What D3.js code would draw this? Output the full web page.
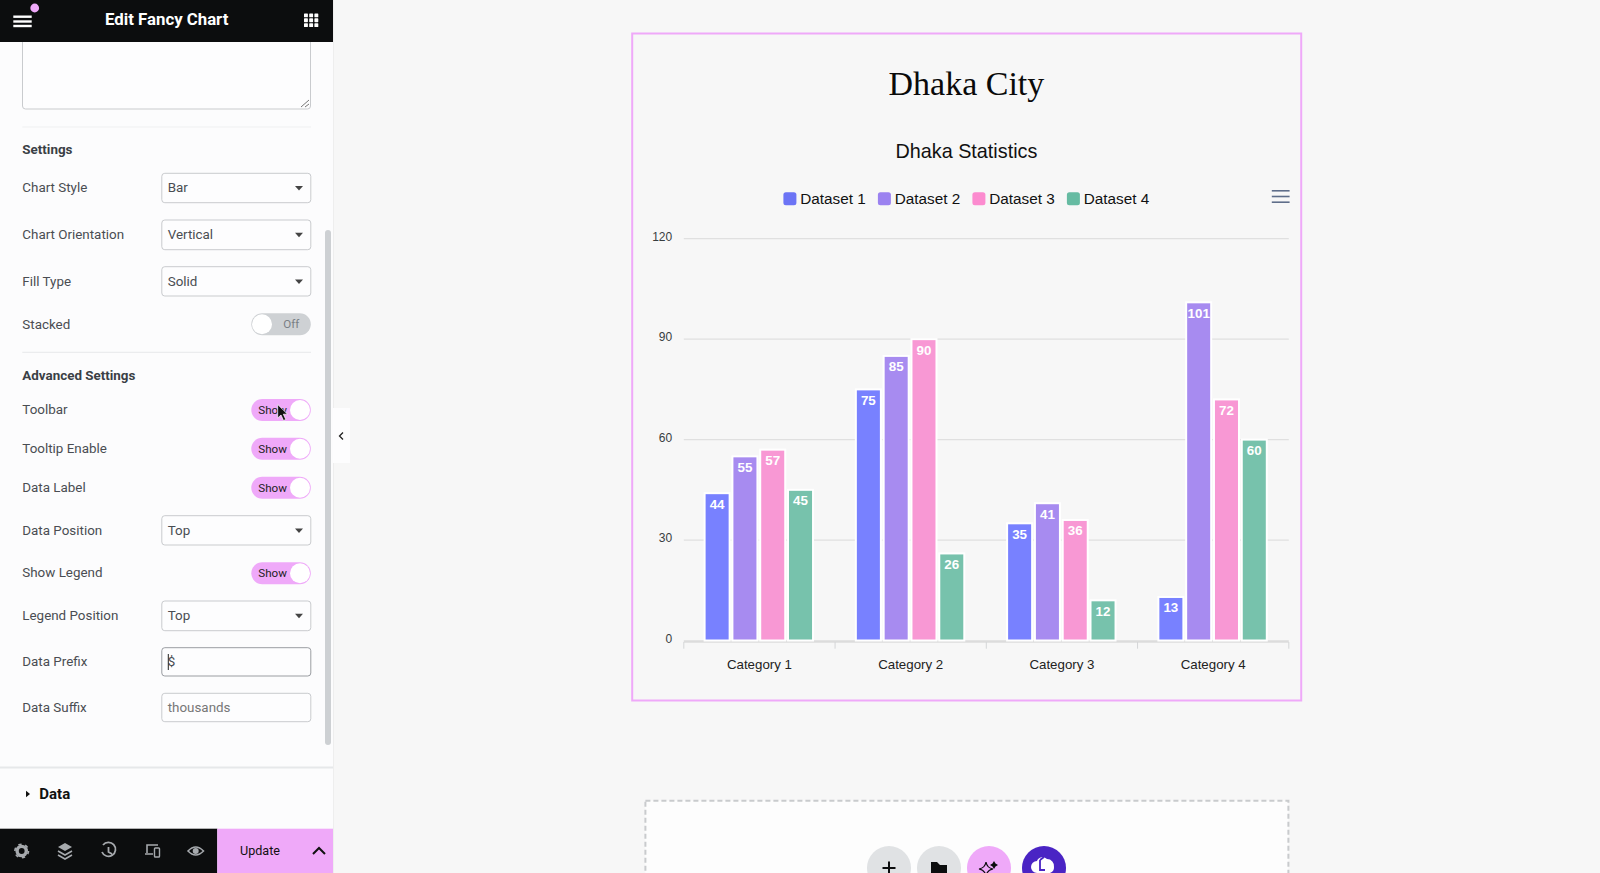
<!DOCTYPE html>
<html>
<head>
<meta charset="utf-8">
<title>Edit Fancy Chart</title>
<script src="https://cdnjs.cloudflare.com/ajax/libs/d3/7.8.5/d3.min.js"></script>
<style>
html, body { margin: 0; padding: 0; background: #f7f7f7; overflow: hidden; }
svg { display: block; }
text { font-family: "Liberation Sans", Arial, sans-serif; }
.ui text { font-family: Roboto, "Liberation Sans", sans-serif; }
</style>
</head>
<body>
<div id="chart"></div>
<script>
const categories = ['Category 1', 'Category 2', 'Category 3', 'Category 4'];
const seriesNames = ['Dataset 1', 'Dataset 2', 'Dataset 3', 'Dataset 4'];
const dataset1 = [44, 75, 35, 13];
const dataset2 = [55, 85, 41, 101];
const dataset3 = [57, 90, 36, 72];
const dataset4 = [45, 26, 12, 60];
const yTicks = [0, 30, 60, 90, 120];

const selectRows = [
	['Chart Style', 'Bar', 173.3, 29.4],
	['Chart Orientation', 'Vertical', 220, 29.7],
	['Fill Type', 'Solid', 266.7, 29.3],
	['Data Position', 'Top', 515.7, 29.3],
	['Legend Position', 'Top', 601, 29.7]
];
const toggleRows = [
	['Toolbar', 399],
	['Tooltip Enable', 437.7],
	['Data Label', 476.7],
	['Show Legend', 562.3]
];

const allSeries = [dataset1, dataset2, dataset3, dataset4];
const barColors = ['#7881ff', '#a78bf0', '#f898d4', '#77c2ac'];
const legendColors = ['#6c74f5', '#9b82f0', '#fc8bcf', '#66bba2'];

const width = 1600;
const height = 873;

const svg = d3.select('#chart')
.append('svg')
.attr('width', width)
.attr('height', height);

svg.append('rect')
.attr('width', width)
.attr('height', height)
.attr('fill', '#f7f7f7');

// ---- chart card
const box = svg.append('g');

box.append('rect')
.attr('x', 632.2)
.attr('y', 33.5)
.attr('width', 669)
.attr('height', 667)
.attr('fill', 'none')
.attr('stroke', '#efa9f9')
.attr('stroke-width', 2);

box.append('text')
.attr('x', 966.4)
.attr('y', 95)
.attr('text-anchor', 'middle')
.style('font-family', '"Liberation Serif", serif')
.style('font-size', '34px')
.attr('fill', '#0a0a0a')
.text('Dhaka City');

box.append('text')
.attr('x', 966.4)
.attr('y', 157.5)
.attr('text-anchor', 'middle')
.style('font-size', '19.8px')
.attr('fill', '#111')
.text('Dhaka Statistics');

// ---- scales
const x0 = d3.scaleBand()
.domain(categories)
.range([683.8, 1288.8]);

const x1 = d3.scaleBand()
.domain(seriesNames)
.range([0, x0.bandwidth()])
.paddingInner(0.1)
.paddingOuter(0.77);

const y = d3.scaleLinear()
.domain([0, 120])
.range([640.5, 238.7]);

// ---- legend
const legendX = d3.scalePoint()
.domain(seriesNames)
.range([783.4, 1066.9]);

const legend = box.selectAll('.legend')
.data(seriesNames)
.enter()
.append('g')
.attr('class', 'legend')
.attr('transform', d => 'translate(' + legendX(d) + ',192.3)');

legend.append('rect')
.attr('width', 13)
.attr('height', 13)
.attr('rx', 2.5)
.attr('fill', (d, i) => legendColors[i]);

legend.append('text')
.attr('x', 16.8)
.attr('y', 11.7)
.style('font-size', '15.3px')
.attr('fill', '#111')
.text(d => d);

// toolbar menu
box.selectAll('.menu')
.data([190.8, 196.5, 202.2])
.enter()
.append('line')
.attr('class', 'menu')
.attr('x1', 1271.8)
.attr('x2', 1289.6)
.attr('y1', d => d)
.attr('y2', d => d)
.attr('stroke', '#5f6e8a')
.attr('stroke-width', 1.6);

// ---- axes
const yAxis = d3.axisLeft(y)
.tickValues(yTicks)
.tickSize(0)
.tickPadding(0);

const yG = box.append('g')
.attr('transform', 'translate(672.2,0)')
.call(yAxis);

yG.select('.domain').remove();

yG.selectAll('text')
.attr('dy', 1.5)
.style('font-size', '12px')
.style('font-family', '"Liberation Sans", sans-serif')
.attr('fill', '#373d3f');

box.selectAll('.grid')
.data(yTicks.filter(d => d > 0))
.enter()
.append('line')
.attr('class', 'grid')
.attr('x1', 683.8)
.attr('x2', 1288.8)
.attr('y1', d => y(d))
.attr('y2', d => y(d))
.attr('stroke', '#e0e0e0')
.attr('stroke-width', 1.2);

box.append('line')
.attr('x1', 683.8)
.attr('x2', 1288.8)
.attr('y1', 641.5)
.attr('y2', 641.5)
.attr('stroke', '#dcdcdc')
.attr('stroke-width', 2.4);

const xAxis = d3.axisBottom(x0)
.tickSize(0)
.tickPadding(0);

const xG = box.append('g')
.attr('transform', 'translate(0,657.6)')
.call(xAxis);

xG.select('.domain').remove();

xG.selectAll('text')
.attr('dy', 0)
.attr('y', 11.6)
.style('font-size', '13.3px')
.style('font-family', '"Liberation Sans", sans-serif')
.attr('fill', '#222');

box.selectAll('.xtick')
.data(categories.concat('end'))
.enter()
.append('line')
.attr('class', 'xtick')
.attr('x1', (d, i) => x0.range()[0] + i * x0.step())
.attr('x2', (d, i) => x0.range()[0] + i * x0.step())
.attr('y1', 642)
.attr('y2', 648.7)
.attr('stroke', '#d4d6d8');

// ---- bars
const groups = box.selectAll('.cat')
.data(categories)
.enter()
.append('g')
.attr('class', 'cat')
.attr('transform', d => 'translate(' + (x0(d) - 0.6) + ',0)');

groups.selectAll('rect')
.data((d, i) => seriesNames.map((s, j) => ({ s: s, j: j, v: allSeries[j][i] })))
.enter()
.append('rect')
.attr('x', d => x1(d.s))
.attr('y', d => y(d.v))
.attr('width', x1.bandwidth())
.attr('height', d => y(0) - y(d.v))
.attr('fill', d => barColors[d.j])
.attr('stroke', '#fff')
.attr('stroke-width', 2);

groups.selectAll('text')
.data((d, i) => seriesNames.map((s, j) => ({ s: s, v: allSeries[j][i] })))
.enter()
.append('text')
.attr('x', d => x1(d.s) + x1.bandwidth() / 2)
.attr('y', d => y(d.v) + 15.4)
.attr('text-anchor', 'middle')
.style('font-size', '13.4px')
.style('font-weight', 'bold')
.attr('fill', '#fff')
.text(d => d.v);

// ---- drop zone below the chart
svg.append('rect')
.attr('x', 645.4)
.attr('y', 800.7)
.attr('width', 643)
.attr('height', 100)
.attr('fill', '#fdfdfd')
.attr('stroke', '#c9cbcd')
.attr('stroke-width', 2)
.attr('stroke-dasharray', '5 3');

const dropButtons = [[889, '#e0e2e4'], [939, '#e0e2e4'], [989, '#efa9f9'], [1044, '#4a24c4']];

svg.selectAll('.drop')
.data(dropButtons)
.enter()
.append('circle')
.attr('class', 'drop')
.attr('cx', d => d[0])
.attr('cy', 868)
.attr('r', 22)
.attr('fill', d => d[1]);

svg.append('path')
.attr('d', 'M882.5 868H895.5M889 861.5V874.5')
.attr('stroke', '#0c0d0e')
.attr('stroke-width', 2);

svg.append('path')
.attr('d', 'M931 862H937L940 865H947V873H931Z')
.attr('fill', '#0c0d0e');

svg.append('path')
.attr('d', 'M986 862Q987 868 993 869Q987 870 986 876Q985 870 979 869Q985 868 986 862Z')
.attr('fill', 'none')
.attr('stroke', '#0c0d0e')
.attr('stroke-width', 1.2);

svg.append('path')
.attr('d', 'M994 861l1.5 2.5l2.5 1.5l-2.5 1.5l-1.5 2.5l-1.5-2.5l-2.5-1.5l2.5-1.5Z')
.attr('fill', '#0c0d0e');

svg.append('path')
.attr('d', 'M1037 873A6 6 0 0 1 1037 861A6 6 0 0 1 1047 859A7 7 0 0 1 1054 867A6 6 0 0 1 1050 873Z')
.attr('fill', '#fff');

svg.append('path')
.attr('d', 'M1040 860V870H1045M1040 860L1044 857')
.attr('fill', 'none')
.attr('stroke', '#4a24c4')
.attr('stroke-width', 1.8);

// ---- editor panel
const ui = svg.append('g').attr('class', 'ui');

ui.append('rect')
.attr('width', 333)
.attr('height', height)
.attr('fill', '#fcfcfd');

ui.append('line')
.attr('x1', 333.5)
.attr('x2', 333.5)
.attr('y2', height)
.attr('stroke', '#eeeeee');

const label = (txt, x, yPos, opts = {}) => ui.append('text')
.attr('x', x)
.attr('y', yPos)
.attr('text-anchor', opts.anchor || 'start')
.style('font-size', (opts.size || 13.4) + 'px')
.style('font-weight', opts.weight || 'normal')
.attr('fill', opts.color || '#4a4d52')
.text(txt);

const field = (yPos, h, stroke) => ui.append('rect')
.attr('x', 161.8)
.attr('y', yPos)
.attr('width', 149)
.attr('height', h)
.attr('rx', 3)
.attr('fill', '#fdfdfe')
.attr('stroke', stroke || '#c9cbce');

const divider = yPos => ui.append('line')
.attr('x1', 22.3)
.attr('x2', 311)
.attr('y1', yPos)
.attr('y2', yPos)
.attr('stroke', '#e6e8ea');

const toggle = (yPos, on) => {
	ui.append('rect')
	.attr('x', 251.3)
	.attr('y', yPos)
	.attr('width', 59.5)
	.attr('height', 22)
	.attr('rx', 11)
	.attr('fill', on ? '#efa9f9' : '#ced1d4');
	ui.append('circle')
	.attr('cx', on ? 300 : 262)
	.attr('cy', yPos + 11)
	.attr('r', 10)
	.attr('fill', '#fff');
	label(on ? 'Show' : 'Off', on ? 258.3 : 283.3, yPos + 15, { size: 11.6, color: on ? '#222' : '#7a7f85' });
};

// text area
ui.append('rect')
.attr('x', 22.5)
.attr('y', 30)
.attr('width', 288)
.attr('height', 79)
.attr('rx', 3)
.attr('fill', '#fdfdfe')
.attr('stroke', '#c9cbce');

ui.append('path')
.attr('d', 'M301 107L309 100M305 107L309 104')
.attr('stroke', '#777')
.attr('fill', 'none');

divider(127).attr('stroke', '#eff0f1');
label('Settings', 22.3, 154, { weight: 'bold', color: '#3a3f45' });
label('Advanced Settings', 22.3, 379.5, { weight: 'bold', color: '#3a3f45' });

selectRows.forEach(r => {
	label(r[0], 22.3, r[2] + 18.8);
	field(r[2], r[3]);
	label(r[1], 167.7, r[2] + 18.8);
	ui.append('path')
	.attr('d', d3.line()([[295, r[2] + 12.7], [303, r[2] + 12.7], [299, r[2] + 17.2]]) + 'Z')
	.attr('fill', '#444');
});

label('Stacked', 22.3, 328.6);
toggle(313.3, false);
divider(352.3);

toggleRows.forEach(r => {
	label(r[0], 22.3, r[1] + 15);
	toggle(r[1], true);
});

label('Data Prefix', 22.3, 666);
field(647.7, 28.3, '#9a9da2');
label('$', 167.7, 666);
ui.append('line')
.attr('x1', 168.3)
.attr('x2', 168.3)
.attr('y1', 654)
.attr('y2', 670)
.attr('stroke', '#222');

label('Data Suffix', 22.3, 711.7);
field(693.3, 28.4);
label('thousands', 167.7, 711.7, { color: '#777' });

// scrollbar
ui.append('rect')
.attr('x', 325)
.attr('y', 230)
.attr('width', 6)
.attr('height', 515)
.attr('rx', 3)
.attr('fill', '#cdd0d3');

// data section
ui.append('line')
.attr('x1', 0)
.attr('x2', 333)
.attr('y1', 767.5)
.attr('y2', 767.5)
.attr('stroke', '#e6e8ea')
.attr('stroke-width', 2);

ui.append('path')
.attr('d', 'M26 790.7L30 794L26 797.3Z')
.attr('fill', '#111');

label('Data', 39.3, 799, { size: 15, weight: 'bold', color: '#111' });

// header
ui.append('rect')
.attr('width', 333)
.attr('height', 42)
.attr('fill', '#0c0d0e');

ui.selectAll('.burger')
.data([16.7, 21.5, 26])
.enter()
.append('line')
.attr('class', 'burger')
.attr('x1', 13.3)
.attr('x2', 31.7)
.attr('y1', d => d)
.attr('y2', d => d)
.attr('stroke', '#fff')
.attr('stroke-width', 2.4);

ui.append('circle')
.attr('cx', 34.7)
.attr('cy', 8)
.attr('r', 4.4)
.attr('fill', '#efa9f9');

label('Edit Fancy Chart', 166.7, 25, { size: 16.8, weight: 'bold', color: '#fff', anchor: 'middle' });

d3.range(3).forEach(i => d3.range(3).forEach(j => {
	ui.append('rect')
	.attr('x', 304 + i * 5.2)
	.attr('y', 13.4 + j * 4.9)
	.attr('width', 3.9)
	.attr('height', 3.9)
	.attr('rx', 0.6)
	.attr('fill', '#fff');
}));

// footer
ui.append('rect')
.attr('y', 828.7)
.attr('width', 217.3)
.attr('height', 44.3)
.attr('fill', '#0c0d0e');

ui.append('rect')
.attr('x', 217.3)
.attr('y', 828.7)
.attr('width', 115.7)
.attr('height', 44.3)
.attr('fill', '#efa9f9');

label('Update', 260, 855, { anchor: 'middle', color: '#111', size: 12.6 });

ui.append('path')
.attr('d', 'M313 854L319 848L325 854')
.attr('fill', 'none')
.attr('stroke', '#111')
.attr('stroke-width', 2);

const iconColor = '#a6a9ad';

// gear
ui.append('circle')
.attr('cx', 21.7)
.attr('cy', 851)
.attr('r', 4.6)
.attr('fill', 'none')
.attr('stroke', iconColor)
.attr('stroke-width', 3.4);

ui.append('circle')
.attr('cx', 21.7)
.attr('cy', 851)
.attr('r', 6.8)
.attr('fill', 'none')
.attr('stroke', iconColor)
.attr('stroke-width', 1.6)
.attr('stroke-dasharray', '3.3 3.8');

// layers
ui.append('path')
.attr('d', 'M65 843L72 847L65 851L58 847Z')
.attr('fill', iconColor);

ui.append('path')
.attr('d', 'M58 851L65 855L72 851M58 855L65 859L72 855')
.attr('fill', 'none')
.attr('stroke', iconColor)
.attr('stroke-width', 1.6);

// history
ui.append('path')
.attr('d', 'M103 845A7 7 0 1 1 102 852M108.5 847V852L112 854')
.attr('fill', 'none')
.attr('stroke', iconColor)
.attr('stroke-width', 1.8);

// devices
ui.append('path')
.attr('d', 'M147 853V845H158M145 854H153')
.attr('fill', 'none')
.attr('stroke', iconColor)
.attr('stroke-width', 1.6);

ui.append('rect')
.attr('x', 154.5)
.attr('y', 848)
.attr('width', 5)
.attr('height', 9)
.attr('rx', 0.8)
.attr('fill', 'none')
.attr('stroke', iconColor)
.attr('stroke-width', 1.4);

// eye
ui.append('path')
.attr('d', 'M188 851Q195.7 843 203.5 851Q195.7 859 188 851Z')
.attr('fill', 'none')
.attr('stroke', iconColor)
.attr('stroke-width', 1.6);

ui.append('circle')
.attr('cx', 195.7)
.attr('cy', 851)
.attr('r', 3)
.attr('fill', iconColor);

// collapse tab
ui.append('rect')
.attr('x', 333)
.attr('y', 408)
.attr('width', 17)
.attr('height', 55)
.attr('fill', '#fdfdfe');

ui.append('path')
.attr('d', 'M343 432.5L339.5 436L343 439.5')
.attr('fill', 'none')
.attr('stroke', '#222')
.attr('stroke-width', 1.3);

// mouse cursor
ui.append('path')
.attr('d', 'M277.7 404.5V418L281 415L283.5 420.5L285.8 419.5L283.3 414.2H287.5Z')
.attr('fill', '#111')
.attr('stroke', '#fff')
.attr('stroke-width', 0.7);
</script>
</body>
</html>
